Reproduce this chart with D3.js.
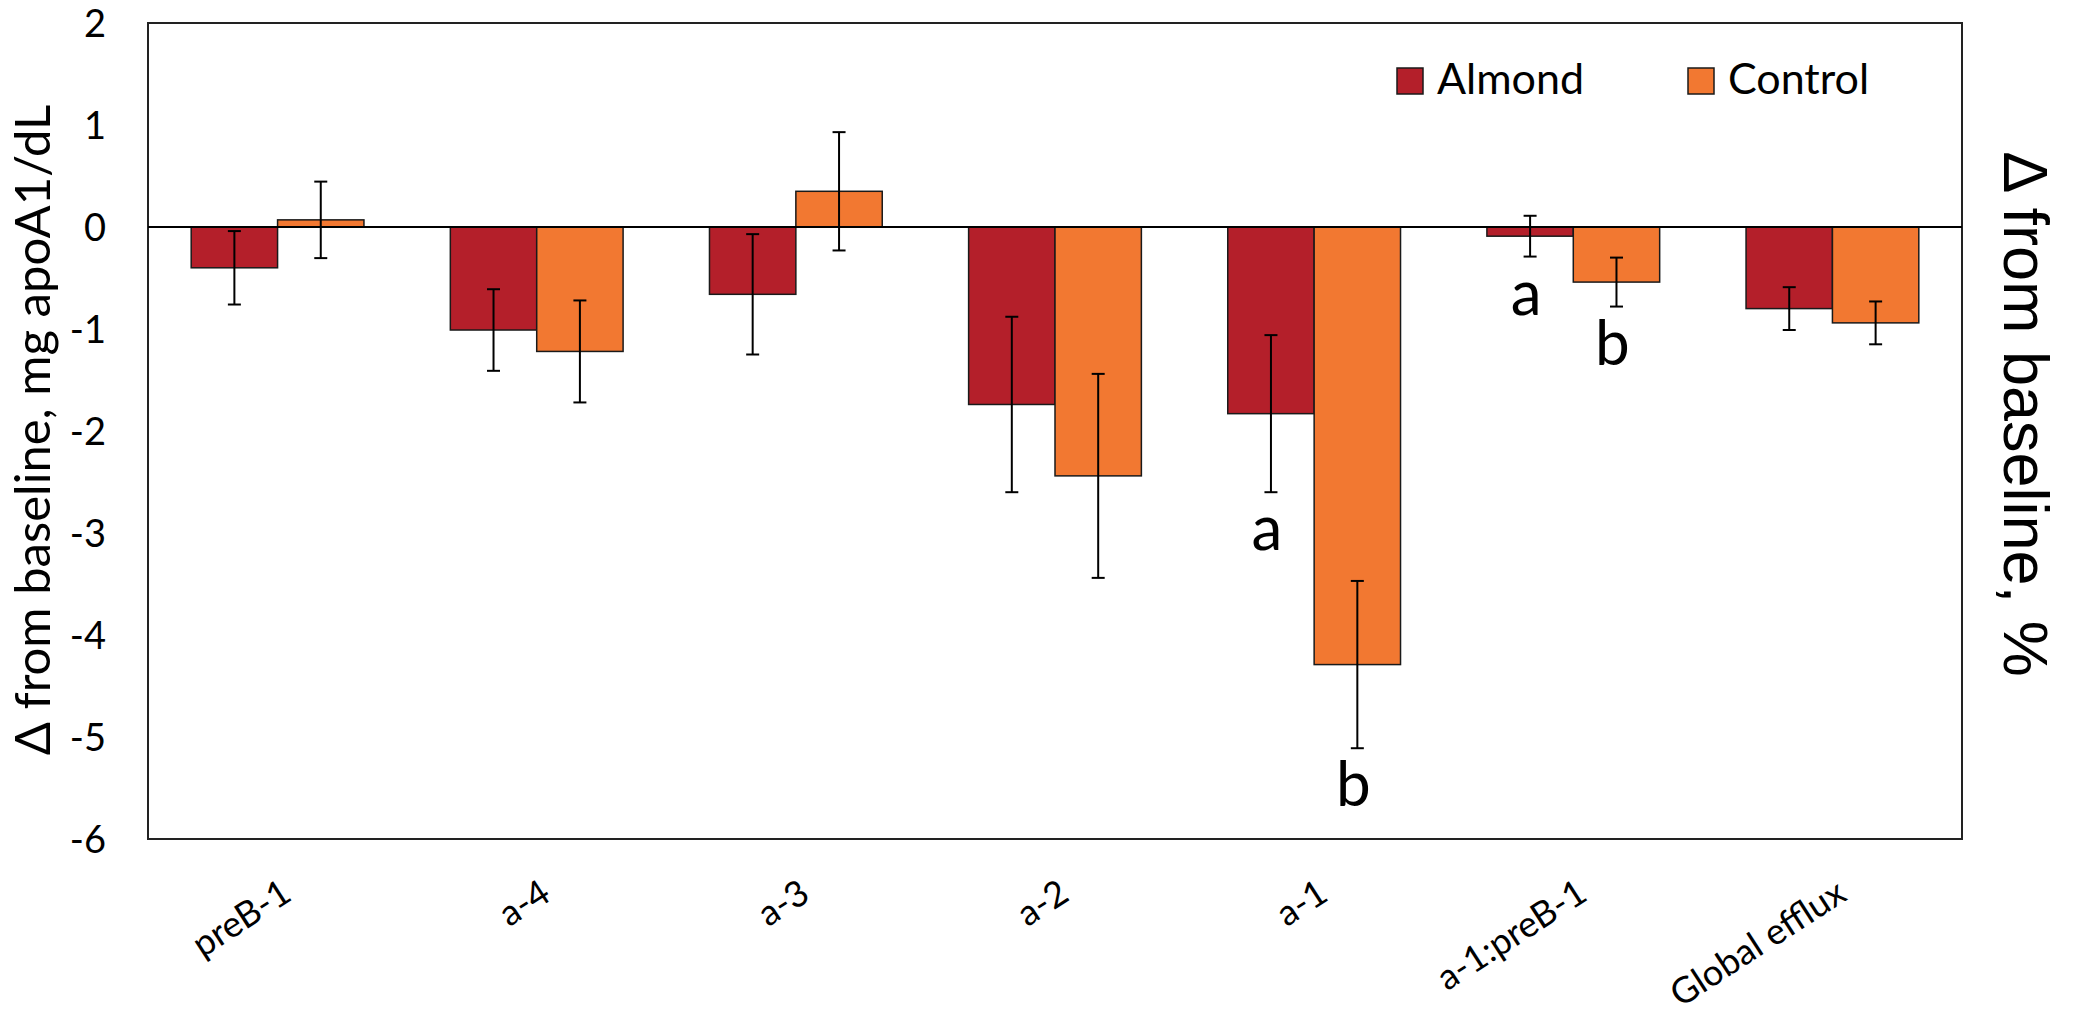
<!DOCTYPE html>
<html>
<head>
<meta charset="utf-8">
<script src="https://cdn.jsdelivr.net/npm/d3@7"></script>
<style>
  body { margin: 0; background: #fff; }
  text { font-family: Lato, "Open Sans", sans-serif; fill: #000; }
</style>
</head>
<body>
<div id="chart"></div>
<script>
var w = 2073;
var h = 1018;

// data
var categories = ["preB-1", "a-4", "a-3", "a-2", "a-1", "a-1:preB-1", "Global efflux"];
var seriesNames = ["Almond", "Control"];
var almond = [-0.40, -1.01, -0.66, -1.74, -1.83, -0.09, -0.80];
var almondErr = [0.36, 0.40, 0.59, 0.86, 0.77, 0.20, 0.21];
var control = [0.07, -1.22, 0.35, -2.44, -4.29, -0.54, -0.94];
var controlErr = [0.375, 0.50, 0.58, 1.00, 0.82, 0.24, 0.21];
var yTicks = [2, 1, 0, -1, -2, -3, -4, -5, -6];
var sigLetters = [
  { cat: "a-1", series: "Almond", text: "a" },
  { cat: "a-1", series: "Control", text: "b" },
  { cat: "a-1:preB-1", series: "Almond", text: "a" },
  { cat: "a-1:preB-1", series: "Control", text: "b" }
];

var colors = { Almond: "#b41f2a", Control: "#f27831" };

var plot = { left: 148, right: 1962, top: 23, bottom: 839 };

var svg = d3
  .select("#chart")
  .append("svg")
  .attr("width", w)
  .attr("height", h)
  .style("display", "block")
  .style("background", "#fff");

// Scales
const xScale = d3
  .scaleBand()
  .domain(categories)
  .range([plot.left, plot.right])
  .paddingInner(0)
  .paddingOuter(0);

const bw = xScale.bandwidth();

const xSub = d3
  .scaleBand()
  .domain(seriesNames)
  .range([bw / 6, (bw * 5) / 6]);

const yScale = d3.scaleLinear().domain([-6, 2]).range([plot.bottom, plot.top]);

// flatten rows for bars
var rows = [];
categories.forEach(function (c, i) {
  rows.push({ cat: c, series: "Almond", value: almond[i], err: almondErr[i] });
  rows.push({ cat: c, series: "Control", value: control[i], err: controlErr[i] });
});

// plot frame
svg
  .append("rect")
  .attr("x", plot.left)
  .attr("y", plot.top)
  .attr("width", plot.right - plot.left)
  .attr("height", plot.bottom - plot.top)
  .attr("fill", "none")
  .attr("stroke", "#222")
  .attr("stroke-width", 2);

// Bars
svg
  .selectAll("rect.bar")
  .data(rows)
  .enter()
  .append("rect")
  .attr("class", "bar")
  .attr("x", function (d) {
    return xScale(d.cat) + xSub(d.series);
  })
  .attr("y", function (d) {
    return yScale(Math.max(0, d.value));
  })
  .attr("width", xSub.bandwidth())
  .attr("height", function (d) {
    return Math.abs(yScale(d.value) - yScale(0));
  })
  .attr("fill", function (d) {
    return colors[d.series];
  })
  .attr("stroke", "#1a1a1a")
  .attr("stroke-width", 1.5);

// zero line
svg
  .append("line")
  .attr("x1", plot.left)
  .attr("x2", plot.right)
  .attr("y1", yScale(0))
  .attr("y2", yScale(0))
  .attr("stroke", "#000")
  .attr("stroke-width", 2);

// Error bars
var eb = svg.append("g").attr("stroke", "#000").attr("stroke-width", 2);
rows.forEach(function (d) {
  var cx = xScale(d.cat) + xSub(d.series) + xSub.bandwidth() / 2;
  var y1 = yScale(d.value + d.err);
  var y2 = yScale(d.value - d.err);
  eb.append("line").attr("x1", cx).attr("x2", cx).attr("y1", y1).attr("y2", y2);
  eb.append("line").attr("x1", cx - 6.5).attr("x2", cx + 6.5).attr("y1", y1).attr("y2", y1);
  eb.append("line").attr("x1", cx - 6.5).attr("x2", cx + 6.5).attr("y1", y2).attr("y2", y2);
});

// Y axis tick labels (no tick marks in the original)
const yAxis = d3
  .axisLeft(yScale)
  .tickValues(yTicks)
  .tickSize(0)
  .tickPadding(42)
  .tickFormat(d3.format("d"));

var gy = svg
  .append("g")
  .attr("transform", "translate(" + plot.left + ",0)")
  .call(yAxis);
gy.select(".domain").remove();
gy.selectAll("text")
  .attr("font-size", 38)
  .attr("font-family", "Lato")
  .attr("dy", "0.35em")
  .text(function (d) {
    return d < 0 ? "-" + Math.abs(d) : d;
  });

// X axis labels, rotated
const xAxis = d3.axisBottom(xScale).tickSize(0).tickPadding(0);
var gx = svg
  .append("g")
  .attr("transform", "translate(0," + plot.bottom + ")")
  .call(xAxis);
gx.select(".domain").remove();
gx.selectAll(".tick text")
  .attr("font-size", 36)
  .attr("font-family", "Lato")
  .attr("text-anchor", "end")
  .attr("dy", 0)
  .attr("y", 0)
  .attr("transform", "translate(16,60) rotate(-33)");

// significance letters below the error bars
svg
  .selectAll("text.sig")
  .data(sigLetters)
  .enter()
  .append("text")
  .attr("class", "sig")
  .attr("x", function (d) {
    return xScale(d.cat) + xSub(d.series) + xSub.bandwidth() / 2 - 4;
  })
  .attr("y", function (d) {
    var i = categories.indexOf(d.cat);
    var v = d.series === "Almond" ? almond[i] - almondErr[i] : control[i] - controlErr[i];
    return yScale(v) + 58;
  })
  .attr("text-anchor", "middle")
  .attr("font-size", 62)
  .text(function (d) {
    return d.text;
  });

// Legend
var legend = svg.append("g");
var legendX = [1397, 1688];
seriesNames.forEach(function (s, i) {
  legend
    .append("rect")
    .attr("x", legendX[i])
    .attr("y", 68)
    .attr("width", 26)
    .attr("height", 26)
    .attr("fill", colors[s])
    .attr("stroke", "#1a1a1a")
    .attr("stroke-width", 1.5);
  legend
    .append("text")
    .attr("x", legendX[i] + 40)
    .attr("y", 94)
    .attr("font-size", 43)
    .text(s);
});

// Axis titles
svg
  .append("text")
  .attr("transform", "translate(50,430) rotate(-90)")
  .attr("text-anchor", "middle")
  .attr("font-size", 49)
  .text("\u0394 from baseline, mg apoA1/dL");

svg
  .append("text")
  .attr("transform", "translate(2004,414) rotate(90)")
  .attr("text-anchor", "middle")
  .style("font-family", "'Liberation Sans', Arial, sans-serif")
  .attr("font-size", 63)
  .text("\u0394 from baseline, %");
</script>
</body>
</html>
